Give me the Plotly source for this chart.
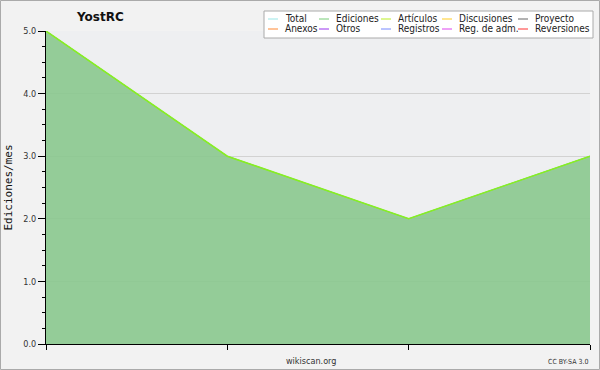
import plotly.graph_objects as go

# ---- data ----
months = [0, 1, 2, 3]
total = [5, 3, 2, 3]
ediciones = [5, 3, 2, 3]
articulos = [5, 3, 2, 3]
y_ticks = [0, 1, 2, 3, 4, 5]
y_tick_labels = ["0.0", "1.0", "2.0", "3.0", "4.0", "5.0"]
legend_names = ["Total", "Ediciones", "Artículos", "Discusiones", "Proyecto",
                "Anexos", "Otros", "Registros", "Reg. de adm.", "Reversiones"]
legend_colors = ["#99e6e6", "#77cc77", "#bbee22", "#ffcc22", "#666666",
                 "#ff8833", "#9933ee", "#7788ff", "#dd44ee", "#ff3333"]

PL, PR, PT, PB = 46, 590, 31, 344
PW, PH = PR - PL, PB - PT
LEG_FONT = "DejaVu Sans Condensed, Liberation Sans, sans-serif"


def px(x):
    return (x - PL) / PW


def py(y):
    return (PB - y) / PH


fig = go.Figure()
fig.add_trace(go.Scatter(x=months, y=total, mode="lines",
                         line=dict(color="#99e6e6", width=1), showlegend=False,
                         hoverinfo="skip"))
fig.add_trace(go.Scatter(x=months, y=ediciones, mode="lines", fill="tozeroy",
                         fillcolor="rgba(137,200,142,0.9)",
                         line=dict(color="#7ccc80", width=1), showlegend=False))
fig.add_trace(go.Scatter(x=months, y=articulos, mode="lines",
                         line=dict(color="#88ee22", width=1.5), showlegend=False))

# manual legend (compact layout like the original)
col_x = [268, 319, 381, 442, 518]
row_y = [19, 29]
fig.add_shape(type="rect", xref="paper", yref="paper",
              x0=px(264), x1=px(593), y0=py(38), y1=py(11),
              line=dict(color="#aaaaaa", width=1), fillcolor="white", layer="above")
for i, (name, color) in enumerate(zip(legend_names, legend_colors)):
    r, c = divmod(i, 5)
    x0 = col_x[c]
    y = row_y[r]
    fig.add_shape(type="line", xref="paper", yref="paper",
                  x0=px(x0), x1=px(x0 + 10), y0=py(y), y1=py(y),
                  line=dict(color=color, width=1), layer="above")
    fig.add_annotation(text=name, xref="paper", yref="paper",
                       x=px(x0 + 15), y=py(y),
                       xanchor="left", yanchor="middle", showarrow=False,
                       font=dict(family=LEG_FONT, size=10, color="#222222"))

fig.add_annotation(text="<b>YostRC</b>", xref="paper", yref="paper",
                   x=px(100), y=py(17), xanchor="center",
                   yanchor="middle", showarrow=False,
                   font=dict(family="DejaVu Sans", size=12, color="#111111"))
fig.add_annotation(text="wikiscan.org", xref="paper", yref="paper",
                   x=px(311), y=py(361), xanchor="center",
                   yanchor="middle", showarrow=False,
                   font=dict(family=LEG_FONT, size=9, color="#333333"))
fig.add_annotation(text="CC BY-SA 3.0", xref="paper", yref="paper",
                   x=px(590), y=py(362), xanchor="right",
                   yanchor="middle", showarrow=False,
                   font=dict(family=LEG_FONT, size=7, color="#333333"))

fig.update_layout(
    width=600, height=370,
    margin=dict(l=PL, r=600 - PR, t=PT, b=370 - PB, autoexpand=False),
    paper_bgcolor="#f2f2f2", plot_bgcolor="#eeeff1",
    showlegend=False,
    xaxis=dict(range=[0, 3], showticklabels=False, showgrid=False,
               tickvals=months, ticks="outside", ticklen=5, tickcolor="black",
               showline=True, linecolor="black", linewidth=1, zeroline=False,
               automargin=False),
    yaxis=dict(range=[0, 5], tickvals=y_ticks, ticktext=y_tick_labels,
               ticks="outside", ticklen=7, tickcolor="black",
               showline=True, linecolor="black", linewidth=1, zeroline=False,
               showgrid=True, gridcolor="#d2d2d2", gridwidth=1, automargin=False,
               minor=dict(dtick=0.25, ticks="outside", ticklen=3,
                          tickcolor="black", showgrid=False),
               tickfont=dict(family=LEG_FONT, size=9, color="#333333"),
               title=dict(text="Ediciones/mes", standoff=8,
                          font=dict(family="DejaVu Sans Mono", size=11,
                                    color="#111111"))),
)
fig.add_shape(type="rect", xref="paper", yref="paper",
              x0=px(0.5), x1=px(599.5), y0=py(369.5), y1=py(0.5),
              line=dict(color="#aaaaaa", width=1), fillcolor="rgba(0,0,0,0)",
              layer="above")

fig.write_html("out.html", config={"displayModeBar": False},
               post_script="document.body.style.margin='0';document.body.style.overflow='hidden';")
